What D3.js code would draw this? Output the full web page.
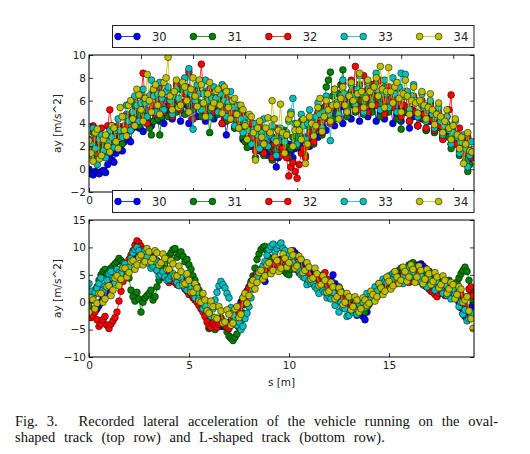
<!DOCTYPE html>
<html>
<head>
<meta charset="utf-8">
<script src="https://cdn.jsdelivr.net/npm/d3@7"></script>
<style>
  body { margin: 0; background: #fff; }
  svg { display: block; }
</style>
</head>
<body>
<div id="chart"></div>
<script>
// runs 30..34, matplotlib classic colours
const seriesNames = ['30', '31', '32', '33', '34'];
const seriesColors = ['#0000ff', '#008000', '#ff0000', '#00bfbf', '#bfbf00'];

// top row: oval-shaped track. Samples every 2 units, kept as the
// even samples (x = 0, 4, 8 ...) and the odd ones (x = 2, 6, 10 ...)
const topStep = 2;
const topAy30 = [
  0.0, -0.5, -0.3, -0.2, -0.3, 1.2, 0.6, 2.2, 1.6, 3.0,
  2.4, 4.0, 3.6, 3.3, 4.4, 3.8, 5.0, 4.2, 4.0, 5.2,
  4.4, 5.6, 4.2, 5.8, 4.0, 5.2, 4.6, 5.4, 4.2, 5.0,
  4.4, 5.2, 4.0, 3.0, 4.4, 3.6, 4.0, 2.6, 3.4, 2.0,
  2.8, 1.6, 2.6, 1.2, 2.4, 0.2, 2.0, 1.4, 2.2, 1.0,
  2.4, 1.6, 2.8, 2.0, 3.2, 2.8, 3.8, 3.4, 4.6, 3.8,
  5.4, 4.0, 5.0, 4.4, 5.2, 4.2, 5.0, 4.6, 5.4, 4.2,
  5.0, 4.4, 5.2, 4.0, 4.8, 4.2, 5.0, 3.6, 4.6, 3.8,
  4.4, 3.4, 4.2, 3.6, 4.0, 2.8, 3.6, 2.2, 3.0, 1.6,
  2.4, 0.8, 1.4];
const topAy30b = [
  -0.4, -0.2, -0.4, -0.1, 0.4, 0.8, 1.4, 1.8, 2.4, 2.6,
  3.6, 4.4, 4.4, 4.8, 5.0, 5.2, 5.4, 5.0, 5.4, 5.6,
  5.8, 5.6, 5.8, 5.6, 5.4, 5.6, 5.8, 5.6, 5.4, 5.6,
  5.4, 5.2, 4.4, 4.6, 4.6, 4.2, 3.8, 3.2, 2.8, 2.4,
  2.2, 2.0, 1.8, 1.6, 1.2, 1.0, 1.6, 1.8, 1.6, 1.8,
  2.2, 2.6, 2.8, 3.2, 3.6, 4.0, 4.4, 4.8, 5.0, 5.4,
  5.6, 5.4, 5.8, 5.6, 5.6, 5.6, 5.8, 6.0, 5.8, 5.6,
  5.6, 5.8, 5.6, 5.4, 5.4, 5.4, 5.0, 4.8, 4.8, 4.6,
  4.4, 4.2, 4.2, 4.0, 3.6, 3.4, 3.0, 2.6, 2.2, 2.0,
  1.6, 1.0];
const topAy31 = [
  1.8, 3.2, 1.0, 2.8, 1.4, 3.0, 2.0, 3.6, 2.2, 4.6,
  3.4, 5.6, 3.8, 5.8, 4.4, 3.0, 5.6, 3.0, 6.0, 4.6,
  6.4, 5.0, 7.0, 4.8, 6.6, 5.2, 7.2, 4.6, 6.8, 3.2,
  6.4, 4.8, 7.0, 4.2, 6.0, 3.6, 5.0, 2.8, 1.9, 3.8,
  1.0, 3.4, 1.2, 3.0, 0.8, 2.8, 1.6, 3.4, 1.0, 2.8,
  2.0, 4.2, 1.2, 3.6, 2.2, 4.8, 3.0, 7.2, 8.5, 4.4,
  6.6, 8.7, 4.6, 6.8, 5.0, 7.4, 4.8, 7.0, 5.0, 7.6,
  4.6, 7.2, 5.0, 6.8, 4.4, 3.5, 6.6, 4.2, 6.2, 3.8,
  5.6, 3.4, 5.8, 3.2, 4.6, 2.8, 4.0, 1.8, 3.4, 1.2,
  2.6, -0.2, 1.0];
const topAy31b = [
  2.4, 2.0, 1.8, 2.2, 2.2, 2.6, 2.8, 3.0, 3.4, 4.0,
  4.6, 4.8, 4.8, 5.2, 3.6, 4.2, 4.4, 4.6, 5.4, 5.6,
  5.8, 6.0, 5.8, 5.8, 6.0, 6.2, 5.8, 5.4, 5.0, 4.6,
  5.6, 6.0, 5.4, 5.0, 4.8, 4.2, 3.8, 2.4, 2.8, 2.4,
  2.2, 2.0, 2.0, 1.8, 1.8, 2.2, 2.4, 2.0, 1.8, 2.4,
  3.0, 2.6, 2.4, 2.8, 3.6, 4.0, 5.4, 7.8, 6.4, 5.6,
  7.4, 6.4, 5.6, 5.8, 6.2, 6.0, 5.8, 6.0, 6.2, 6.0,
  5.8, 6.0, 5.8, 5.4, 4.4, 5.0, 5.4, 5.2, 5.0, 4.6,
  4.4, 4.6, 4.4, 4.0, 3.6, 3.4, 2.8, 2.6, 2.2, 1.8,
  0.8, 0.4];
const topAy32 = [
  2.6, 3.8, 1.4, 3.6, 1.8, 5.2, 2.6, 3.8, 2.8, 4.8,
  3.8, 6.2, 4.4, 8.4, 4.0, 6.6, 4.8, 7.2, 5.0, 6.8,
  4.6, 7.4, 5.2, 6.6, 8.5, 4.4, 6.8, 9.2, 4.8, 7.0,
  5.0, 6.4, 4.0, 6.2, 4.4, 5.6, 3.6, 4.8, 2.6, 4.0,
  1.6, 3.8, 1.4, 3.4, 1.0, 3.6, 1.2, 2.8, -0.6, 0.6,
  -0.8, 1.4, 1.0, 3.2, 2.4, 5.0, 3.2, 5.6, 4.0, 7.0,
  4.6, 7.5, 5.0, 7.8, 9.0, 5.2, 8.2, 5.0, 7.4, 5.6,
  7.8, 4.8, 7.2, 5.4, 7.0, 4.6, 6.8, 4.2, 6.4, 3.8,
  6.0, 3.6, 5.6, 3.4, 5.0, 2.6, 4.6, 6.5, 2.2, 3.6,
  1.4, 2.8, 1.0];
const topAy32b = [
  1.8, 2.6, 2.4, 2.8, 3.8, 3.8, 3.2, 3.4, 3.8, 4.2,
  5.0, 5.4, 6.4, 6.0, 5.2, 5.6, 6.2, 5.8, 6.0, 5.6,
  6.2, 6.0, 5.8, 7.2, 6.2, 5.6, 7.4, 6.6, 5.8, 6.0,
  5.6, 5.4, 5.2, 5.0, 5.0, 4.4, 4.2, 3.6, 3.2, 2.8,
  2.6, 2.4, 2.2, 2.0, 2.2, 2.0, 1.8, 1.0, 0.2, -0.2,
  0.4, 1.8, 2.0, 2.8, 3.6, 4.0, 4.4, 4.8, 5.4, 5.8,
  6.0, 6.2, 6.4, 7.0, 6.8, 6.8, 6.4, 6.2, 6.6, 6.6,
  6.2, 6.0, 6.4, 6.0, 5.8, 5.6, 5.4, 5.2, 5.0, 4.8,
  4.8, 4.4, 4.4, 4.0, 3.8, 3.6, 5.2, 3.4, 2.8, 2.4,
  2.0, 1.6];
const topAy33 = [
  1.2, 3.6, 0.4, 3.0, 1.0, 3.4, 1.9, 4.4, 2.8, 5.6,
  3.4, 6.4, 4.2, 7.0, 4.6, 7.8, 5.0, 7.6, 5.2, 7.2,
  4.8, 7.0, 5.4, 8.0, 8.8, 3.5, 7.4, 5.2, 7.8, 4.6,
  7.2, 5.0, 7.4, 4.6, 6.8, 3.8, 5.6, 3.2, 4.6, 2.2,
  4.0, 1.8, 4.4, 2.0, 3.8, 1.2, 3.6, 2.4, 4.2, 6.2,
  2.2, 4.8, 2.6, 5.2, 3.0, 5.8, 3.6, 6.4, 2.5, 6.8,
  4.8, 7.8, 5.2, 7.4, 5.6, 8.2, 5.0, 7.6, 5.8, 8.4,
  5.2, 7.8, 5.4, 8.0, 5.0, 8.4, 8.3, 5.2, 7.4, 4.6,
  6.6, 4.2, 6.0, 3.6, 5.4, 3.0, 4.6, 2.2, 4.2, 1.4,
  3.0, 0.2, 2.4];
const topAy33b = [
  2.2, 1.8, 2.6, 1.6, 2.4, 2.8, 3.4, 3.4, 4.6, 4.2,
  5.0, 5.6, 5.8, 5.8, 6.4, 6.4, 6.6, 6.2, 6.8, 6.0,
  6.4, 6.2, 7.4, 6.8, 6.6, 6.0, 6.6, 6.6, 6.0, 6.2,
  6.2, 6.6, 6.0, 5.8, 5.4, 4.8, 4.4, 4.0, 3.4, 3.4,
  3.0, 3.2, 2.8, 3.0, 2.6, 2.4, 3.0, 3.2, 5.0, 4.0,
  3.6, 3.8, 4.0, 4.2, 4.6, 4.8, 5.0, 4.8, 5.6, 5.8,
  6.4, 6.6, 6.4, 6.4, 7.0, 6.6, 6.4, 6.8, 7.0, 6.8,
  6.6, 6.6, 6.8, 6.6, 7.2, 6.4, 6.8, 6.4, 6.0, 5.8,
  5.4, 5.2, 4.8, 4.6, 4.2, 3.8, 3.4, 3.2, 2.8, 2.4,
  1.8, 1.2];
const topAy34 = [
  2.5, 0.7, 3.5, 1.2, 3.0, 1.5, 3.6, 1.8, 4.6, 2.9,
  6.0, 3.8, 6.5, 4.2, 8.3, 5.0, 7.4, 4.8, 7.6, 9.8,
  5.2, 7.8, 5.6, 7.2, 5.0, 8.0, 5.5, 7.4, 4.6, 7.6,
  5.8, 7.0, 4.9, 6.8, 4.4, 6.2, 3.6, 5.2, 2.6, 4.6,
  0.8, 4.2, 2.2, 4.5, 6.0, 2.4, 5.7, 1.4, 4.4, 2.0,
  4.0, 2.6, 0.5, 4.6, 2.9, 5.4, 3.3, 6.0, 4.2, 7.0,
  4.4, 7.2, 5.0, 7.6, 5.2, 8.4, 5.4, 7.8, 5.6, 8.0,
  9.0, 5.4, 8.9, 5.8, 7.6, 5.0, 7.8, 4.8, 7.2, 4.9,
  6.8, 4.4, 6.6, 3.9, 5.8, 3.2, 5.2, 2.6, 4.4, 1.8,
  0.5, 3.2, 1.5];
const topAy34b = [
  1.4, 3.2, 0.9, 2.6, 2.0, 3.8, 2.4, 5.4, 3.4, 5.6,
  4.4, 7.0, 5.2, 6.2, 6.0, 7.0, 5.6, 6.6, 8.0, 6.4,
  6.8, 5.4, 7.6, 6.0, 7.0, 6.4, 7.8, 5.8, 6.6, 5.4,
  6.8, 5.6, 7.2, 5.4, 6.0, 4.8, 5.6, 3.8, 4.8, 3.2,
  3.6, 2.8, 3.6, 3.2, 4.4, 3.4, 3.2, 3.0, 4.8, 3.4,
  3.4, 4.4, 2.2, 4.0, 3.8, 6.2, 4.6, 5.2, 5.6, 5.6,
  6.2, 5.6, 6.4, 6.0, 6.6, 6.8, 6.2, 6.8, 7.2, 6.4,
  7.0, 6.8, 6.8, 7.2, 6.2, 6.6, 6.4, 6.0, 5.8, 6.0,
  5.6, 5.4, 5.2, 4.8, 4.6, 4.2, 3.6, 3.8, 3.0, 2.8,
  2.2, 1.6];

// bottom row: L-shaped track, samples every 0.1 m
// (s = 0, 0.2, 0.4 ... and s = 0.1, 0.3, 0.5 ...)
const bottomStep = 0.1;
const bottomAy30 = [
  -2.8, -2.0, -1.2, 0.0, 1.6, 2.8, 3.6, 4.4, 5.2, 6.4,
  7.0, 8.2, 8.8, 9.2, 8.6, 8.8, 8.0, 7.6, 6.8, 6.2,
  5.8, 5.0, 4.6, 4.2, 3.8, 3.2, 2.2, 1.2, 0.0, -1.2,
  -2.4, -3.4, -4.0, -4.4, -4.2, -3.8, -3.0, -1.6, 0.0, 1.4,
  2.8, 4.0, 5.0, 5.6, 3.8, 6.2, 6.8, 7.4, 7.8, 8.4,
  8.8, 9.4, 8.6, 7.8, 6.8, 6.0, 5.2, 4.4, 3.8, 3.2,
  3.0, 5.0, 2.0, 1.2, 0.4, -0.6, -1.4, -2.4, -2.0, -3.2,
  -0.4, 0.8, 1.8, 2.6, 3.4, 4.2, 4.6, 5.2, 5.6, 6.0,
  6.4, 6.8, 6.6, 7.0, 6.2, 5.6, 4.8, 4.2, 3.6, 3.0,
  2.8, 2.2, 0.8, -1.0, -2.6, -1.6, -0.4];
const bottomAy30b = [
  -2.4, -1.6, -0.6, 0.8, 2.2, 3.2, 4.0, 4.8, 5.8, 6.8,
  7.6, 8.6, 9.0, 8.8, 8.4, 8.4, 7.8, 7.2, 6.4, 6.0,
  5.4, 4.8, 4.4, 4.0, 3.6, 2.8, 1.6, 0.6, -0.6, -1.8,
  -3.0, -3.8, -4.2, -4.4, -4.0, -3.4, -2.4, -0.8, 0.8, 2.0,
  3.4, 4.6, 5.2, 5.8, 6.0, 6.4, 7.0, 7.6, 8.0, 8.6,
  9.0, 9.0, 8.2, 7.2, 6.4, 5.6, 4.8, 4.0, 3.4, 3.2,
  4.0, 3.4, 1.6, 0.8, -0.2, -1.0, -1.8, -2.2, -2.6, -1.8,
  0.2, 1.2, 2.2, 3.0, 3.8, 4.4, 5.0, 5.4, 5.8, 6.2,
  6.6, 6.8, 6.8, 6.6, 5.8, 5.2, 4.4, 3.8, 3.2, 2.8,
  2.4, 1.4, 0.0, -2.0, -2.2, -1.0];
const bottomAy31 = [
  -0.8, 1.2, 2.8, 5.0, 6.0, 5.4, 6.6, 7.4, 7.6, 6.8,
  4.4, 1.0, 1.8, -1.8, 0.8, 1.6, 0.4, 2.8, 5.0, 7.2,
  8.4, 9.6, 8.2, 9.2, 7.4, 6.8, 4.8, 3.0, 1.0, -1.2,
  -4.8, -3.6, -4.2, -2.8, -4.4, -6.2, -7.0, -5.8, -3.4, -0.4,
  2.4, 4.8, 7.8, 9.6, 10.2, 8.2, 7.0, 7.6, 6.4, 5.6,
  5.0, 7.2, 6.4, 5.8, 5.2, 4.6, 3.8, 4.4, 3.0, 2.2,
  1.6, 2.4, 1.8, 2.0, 0.6, -0.8, 0.4, -0.6, -1.4, -1.8,
  -0.2, 1.0, 2.2, 3.0, 4.0, 4.4, 5.2, 5.6, 6.2, 5.2,
  6.8, 7.2, 6.0, 5.4, 4.8, 5.6, 4.2, 3.6, 4.4, 3.4,
  4.0, 3.0, 3.6, 5.2, 6.4, 4.0, 0.2];
const bottomAy31b = [
  0.4, 2.2, 4.0, 5.6, 5.2, 6.2, 7.0, 8.0, 7.2, 5.6,
  2.2, 0.2, 0.6, 0.0, 1.2, 2.2, 1.0, 4.0, 6.2, 8.0,
  9.0, 9.8, 8.8, 8.4, 7.8, 6.0, 4.0, 2.2, -0.2, -3.0,
  -4.2, -5.0, -3.4, -3.6, -5.4, -6.6, -6.4, -4.6, -2.0, 1.0,
  3.8, 6.2, 8.8, 10.0, 9.4, 7.8, 7.2, 7.0, 6.0, 5.2,
  6.0, 6.8, 6.0, 5.4, 5.0, 4.2, 4.0, 3.6, 2.6, 1.8,
  2.0, 2.2, 2.8, 1.2, 0.0, -0.2, 0.0, -1.0, -1.2, -1.0,
  0.4, 1.6, 2.6, 3.4, 4.2, 4.8, 5.4, 5.8, 5.8, 6.0,
  7.0, 6.6, 5.6, 5.0, 5.2, 4.8, 4.0, 4.0, 3.8, 3.6,
  3.4, 3.2, 4.4, 5.8, 5.6, 2.0];
const bottomAy32 = [
  -1.6, -2.4, -3.2, -4.0, -2.6, -4.8, -3.4, -1.8, 2.0, 5.6,
  7.8, 9.4, 11.2, 10.2, 9.0, 8.2, 7.6, 5.8, 5.2, 5.0,
  3.6, 4.6, 3.2, 3.8, 2.4, 1.4, 0.8, 0.0, -1.2, -2.6,
  -4.4, -3.8, -4.6, -3.2, -4.0, -4.8, -3.4, -2.0, -0.6, 1.2,
  2.6, 4.0, 5.2, 6.0, 5.6, 6.4, 7.2, 6.8, 7.6, 8.0,
  6.6, 7.4, 6.0, 5.8, 4.6, 5.0, 3.4, 4.0, 4.8, 5.4,
  3.0, 2.0, 2.6, 1.0, -0.2, -0.6, -1.2, 0.2, -1.0, -0.4,
  0.6, 1.8, 1.0, 2.8, 3.4, 2.6, 4.0, 3.4, 4.6, 5.0,
  3.6, 4.4, 5.8, 4.2, 3.0, 2.4, 1.8, 1.0, 2.2, 1.2,
  2.0, 1.6, 0.8, 1.4, -0.6, 2.4, 1.2];
const bottomAy32b = [
  -2.8, -1.8, -4.4, -3.2, -4.2, -4.0, -2.8, 0.2, 3.8, 6.8,
  8.6, 10.4, 10.8, 9.6, 8.6, 7.2, 6.8, 5.4, 4.6, 4.2,
  4.0, 3.6, 3.4, 3.0, 2.0, 1.6, 0.4, -0.6, -1.8, -3.6,
  -4.6, -4.2, -4.0, -3.6, -4.6, -4.2, -2.6, -1.4, 0.4, 2.0,
  3.2, 4.6, 5.6, 5.8, 6.0, 6.8, 7.0, 7.2, 7.8, 7.2,
  7.0, 6.6, 5.4, 5.2, 4.2, 4.2, 3.8, 4.4, 5.0, 4.2,
  2.4, 2.2, 1.8, 0.4, -0.4, -1.0, -0.4, -0.6, -0.8, 0.2,
  1.2, 1.4, 2.0, 3.0, 3.0, 3.2, 3.8, 4.0, 4.8, 4.2,
  4.0, 5.2, 5.0, 3.6, 2.8, 2.0, 1.4, 1.6, 1.6, 1.6,
  1.8, 1.2, 1.0, 0.4, 1.0, 2.8];
const bottomAy33 = [
  3.4, 1.0, 2.6, 4.4, 3.0, 5.2, 4.4, 6.0, 5.2, 7.0,
  6.4, 9.0, 10.0, 8.6, 9.4, 7.0, 6.6, 5.8, 5.0, 4.6,
  4.2, 5.2, 3.6, 4.4, 2.6, 3.2, 1.4, 1.8, 0.2, -0.6,
  -2.0, -1.2, 1.8, 3.8, 2.6, 0.8, -2.4, -4.2, -5.0, -3.0,
  -0.8, 2.4, 4.6, 5.4, 7.4, 9.6, 10.6, 9.8, 10.8, 9.4,
  8.6, 7.2, 6.8, 5.0, 4.4, 4.0, 3.6, 2.4, 3.0, 1.8,
  1.2, 1.8, 0.4, 0.0, -1.2, -2.4, -1.8, -2.2, -0.6, -1.0,
  0.4, 0.8, 2.0, 2.6, 3.8, 4.8, 5.2, 4.2, 3.8, 4.6,
  6.4, 5.6, 4.0, 4.8, 3.4, 4.2, 3.0, 3.6, 2.6, 3.2,
  1.8, 2.4, 1.0, 0.0, -1.4, -3.0, -2.0];
const bottomAy33b = [
  2.0, 1.8, 3.4, 2.2, 4.0, 5.6, 3.6, 5.4, 6.6, 5.8,
  8.0, 9.6, 9.4, 7.8, 8.2, 6.2, 7.4, 4.8, 5.6, 4.0,
  4.8, 4.4, 3.0, 3.6, 2.2, 2.4, 0.8, 0.6, -1.2, -1.6,
  -2.6, 0.4, 3.0, 3.2, 1.6, -1.0, -3.4, -3.6, -4.4, -2.0,
  0.8, 3.6, 5.8, 6.6, 8.6, 10.2, 9.2, 10.4, 9.8, 8.2,
  7.8, 6.0, 5.8, 4.6, 3.2, 3.4, 2.8, 1.6, 2.2, 0.8,
  0.6, -0.6, -1.8, -1.0, -2.6, -1.4, -1.4, -0.2, 0.0, 1.6,
  1.4, 2.8, 3.4, 4.2, 3.6, 4.4, 5.0, 4.2, 3.4, 5.4,
  4.6, 3.8, 3.8, 3.2, 2.8, 3.6, 2.2, 2.8, 1.6, 1.2,
  0.6, 1.4, -0.8, -2.2, -3.4, -2.6];
const bottomAy34 = [
  -1.8, 0.4, -0.2, 1.6, 0.6, 3.0, 2.2, 4.8, 4.2, 6.2,
  5.4, 7.6, 6.8, 8.6, 7.4, 9.2, 8.0, 9.0, 7.2, 8.0,
  6.0, 7.0, 4.8, 5.6, 3.4, 4.0, 1.8, 2.6, 0.0, 0.4,
  -2.0, -0.8, -3.0, -1.6, -3.6, -2.2, -3.8, -0.8, -2.2, 1.6,
  1.2, 4.0, 3.6, 5.8, 4.8, 7.2, 5.8, 7.6, 6.2, 8.0,
  7.2, 8.6, 6.6, 7.8, 5.8, 6.4, 4.4, 5.2, 3.2, 4.0,
  2.0, 2.8, 1.0, 1.8, 0.0, 1.0, -0.8, 0.4, -1.2, 0.4,
  -0.2, 1.4, 1.0, 2.6, 2.0, 3.8, 3.0, 4.6, 4.0, 5.6,
  4.6, 6.0, 4.6, 5.8, 4.2, 5.2, 3.8, 4.6, 3.2, 4.0,
  2.4, 3.2, 1.4, 2.4, 0.4, -1.6, -4.8];
const bottomAy34b = [
  0.8, -1.2, 1.6, 0.0, 2.8, 1.2, 4.4, 3.0, 6.2, 4.6,
  7.4, 6.0, 8.2, 6.8, 9.8, 7.4, 9.4, 6.8, 8.8, 6.0,
  7.6, 4.8, 6.6, 3.2, 5.2, 1.8, 3.4, 0.2, 1.6, -1.6,
  0.2, -2.8, -0.8, -3.8, -1.4, -4.2, -1.2, -2.8, 0.8, -0.2,
  3.2, 2.4, 5.4, 4.2, 6.8, 5.2, 8.2, 5.6, 8.8, 6.4,
  9.4, 6.2, 8.4, 5.4, 7.2, 4.2, 6.2, 3.0, 4.8, 1.8,
  3.6, 0.6, 2.6, -0.4, 1.6, -1.4, 1.0, -1.8, 0.8, -0.6,
  2.0, 0.2, 3.4, 1.4, 4.6, 2.4, 5.6, 3.4, 6.4, 3.8,
  6.8, 3.6, 6.6, 3.4, 6.0, 3.2, 5.4, 2.6, 4.8, 1.6,
  3.6, 0.6, 2.8, 0.0, 1.0, -3.0];

// axis settings
const topXDomain = [0, 370];
const topYDomain = [-2, 10];
const topXTicks = [0, 50, 100, 150, 200, 250, 300, 350];
const topYTicks = [-2, 0, 2, 4, 6, 8, 10];
const bottomXDomain = [0, 19.25];
const bottomYDomain = [-10, 15];
const bottomXTicks = [0, 5, 10, 15];
const bottomYTicks = [-10, -5, 0, 5, 10, 15];

const captionLine1 = ['Fig.', '3.', 'Recorded', 'lateral', 'acceleration', 'of', 'the',
  'vehicle', 'running', 'on', 'the', 'oval-'];
const captionLine2 = 'shaped track (top row) and L-shaped track (bottom row).';

// put the even and odd samples back in order
function interleave(even, odd) {
  let out = [];
  even.forEach((v, i) => {
    out.push(v);
    if (i < odd.length) out.push(odd[i]);
  });
  return out;
}

const WIDTH = 530, HEIGHT = 454;
const svg = d3.select('#chart').append('svg')
  .attr('width', WIDTH)
  .attr('height', HEIGHT)
  .style('font-family', '"DejaVu Sans", sans-serif');

function drawPanel(cfg) {
  let g = svg.append('g');
  let x = d3.scaleLinear().domain(cfg.xDomain).range([cfg.left, cfg.right]);
  let y = d3.scaleLinear().domain(cfg.yDomain).range([cfg.bottom, cfg.top]);

  svg.append('clipPath').attr('id', 'clip-' + cfg.id)
    .append('rect')
    .attr('x', cfg.left).attr('y', cfg.top)
    .attr('width', cfg.right - cfg.left)
    .attr('height', cfg.bottom - cfg.top);

  let plot = g.append('g').attr('clip-path', `url(#clip-${cfg.id})`);
  let line = d3.line().x(d => x(d[0])).y(d => y(d[1]));

  cfg.series.forEach((vals, k) => {
    let pts = vals.map((v, i) => [i * cfg.step, v]);
    let sg = plot.append('g');
    sg.append('path').datum(pts)
      .attr('d', line)
      .attr('fill', 'none')
      .attr('stroke', seriesColors[k])
      .attr('stroke-width', 1)
      .attr('stroke-opacity', 0.8);
    sg.selectAll('circle').data(pts).join('circle')
      .attr('cx', d => x(d[0]))
      .attr('cy', d => y(d[1]))
      .attr('r', 3.4)
      .attr('fill', seriesColors[k])
      .attr('stroke', '#000')
      .attr('stroke-width', 0.5);
  });

  // ticks point inwards on all four sides
  let axes = [
    [d3.axisBottom(x).tickValues(cfg.xTicks).tickFormat(cfg.xFormat).tickPadding(4.5), `translate(0,${cfg.bottom})`],
    [d3.axisTop(x).tickValues(cfg.xTicks).tickFormat(''), `translate(0,${cfg.top})`],
    [d3.axisLeft(y).tickValues(cfg.yTicks).tickPadding(3), `translate(${cfg.left},0)`],
    [d3.axisRight(y).tickValues(cfg.yTicks).tickFormat(''), `translate(${cfg.right},0)`]
  ];
  for (let [ax, tr] of axes) {
    let a = g.append('g').attr('transform', tr)
      .call(ax.tickSize(-4));
    a.select('.domain').remove();
    a.selectAll('line').attr('stroke', '#000').attr('stroke-width', 0.8);
    a.selectAll('text')
      .attr('fill', '#222')
      .style('font-size', '10.5px')
      .style('font-family', '"DejaVu Sans", sans-serif');
  }

  g.append('rect')
    .attr('x', cfg.left).attr('y', cfg.top)
    .attr('width', cfg.right - cfg.left)
    .attr('height', cfg.bottom - cfg.top)
    .attr('fill', 'none')
    .attr('stroke', '#000')
    .attr('stroke-width', 1);

  g.append('text')
    .attr('transform', `translate(57,${(cfg.top + cfg.bottom) / 2}) rotate(-90)`)
    .attr('text-anchor', 'middle')
    .attr('dominant-baseline', 'central')
    .attr('fill', '#222')
    .style('font-size', '10.5px')
    .text('ay [m/s^2]');
}

function drawLegend(top) {
  let lg = svg.append('g');
  lg.append('rect')
    .attr('x', 112.5).attr('y', top + 0.5)
    .attr('width', 361.5).attr('height', 22)
    .attr('fill', '#fff')
    .attr('stroke', '#222')
    .attr('stroke-width', 1);
  let cy = top + 11.5;
  let items = lg.selectAll('g.item').data(seriesNames).join('g')
    .attr('class', 'item')
    .attr('transform', (d, i) => `translate(${118 + i * 75.4},${cy})`);
  items.append('line')
    .attr('x1', 0).attr('x2', 19)
    .attr('stroke', (d, i) => seriesColors[i])
    .attr('stroke-opacity', 0.8)
    .attr('stroke-width', 1);
  items.selectAll('circle').data((d, i) => [[0, i], [19, i]]).join('circle')
    .attr('cx', d => d[0])
    .attr('r', 3.4)
    .attr('fill', d => seriesColors[d[1]])
    .attr('stroke', '#000')
    .attr('stroke-width', 0.5);
  items.append('text')
    .attr('x', 34)
    .attr('dominant-baseline', 'central')
    .attr('fill', '#222')
    .style('font-size', '11.5px')
    .text(d => d);
}

drawPanel({
  id: 'top', left: 89, right: 474, top: 55, bottom: 192,
  xDomain: topXDomain, yDomain: topYDomain,
  xTicks: topXTicks, yTicks: topYTicks, step: topStep,
  // only the 0 label shows, the rest sit under the second legend
  xFormat: d => d === 0 ? '0' : '',
  series: [
    interleave(topAy30, topAy30b), interleave(topAy31, topAy31b),
    interleave(topAy32, topAy32b), interleave(topAy33, topAy33b),
    interleave(topAy34, topAy34b)]
});
drawLegend(25);

drawPanel({
  id: 'bottom', left: 89, right: 474, top: 220, bottom: 357,
  xDomain: bottomXDomain, yDomain: bottomYDomain,
  xTicks: bottomXTicks, yTicks: bottomYTicks, step: bottomStep,
  xFormat: d3.format('d'),
  series: [
    interleave(bottomAy30, bottomAy30b), interleave(bottomAy31, bottomAy31b),
    interleave(bottomAy32, bottomAy32b), interleave(bottomAy33, bottomAy33b),
    interleave(bottomAy34, bottomAy34b)]
});
// the second legend sits on top of the first panel's x axis
drawLegend(190);

svg.append('text')
  .attr('x', 281.5).attr('y', 386)
  .attr('text-anchor', 'middle')
  .attr('fill', '#222')
  .style('font-size', '10.5px')
  .text('s [m]');

// caption, first line justified between x=15 and x=498
let cap = svg.append('g')
  .style('font-family', '"Liberation Serif", "Times New Roman", serif')
  .style('font-size', '14.5px')
  .attr('fill', '#111');
let words = cap.selectAll('text.w').data(captionLine1).join('text')
  .attr('class', 'w')
  .attr('y', 426)
  .text(d => d);
let widths = [];
words.each(function () { widths.push(this.getComputedTextLength()); });
let gapWeights = captionLine1.slice(1).map((d, i) => i === 1 ? 2.4 : 1);
let free = (498 - 15) - d3.sum(widths);
let unit = free / d3.sum(gapWeights);
let pos = 15;
words.attr('x', (d, i) => {
  let px = pos;
  pos += widths[i] + (i < gapWeights.length ? gapWeights[i] * unit : 0);
  return px;
});
cap.append('text')
  .attr('x', 15).attr('y', 442)
  .style('word-spacing', '5px')
  .text(captionLine2);
</script>
</body>
</html>
